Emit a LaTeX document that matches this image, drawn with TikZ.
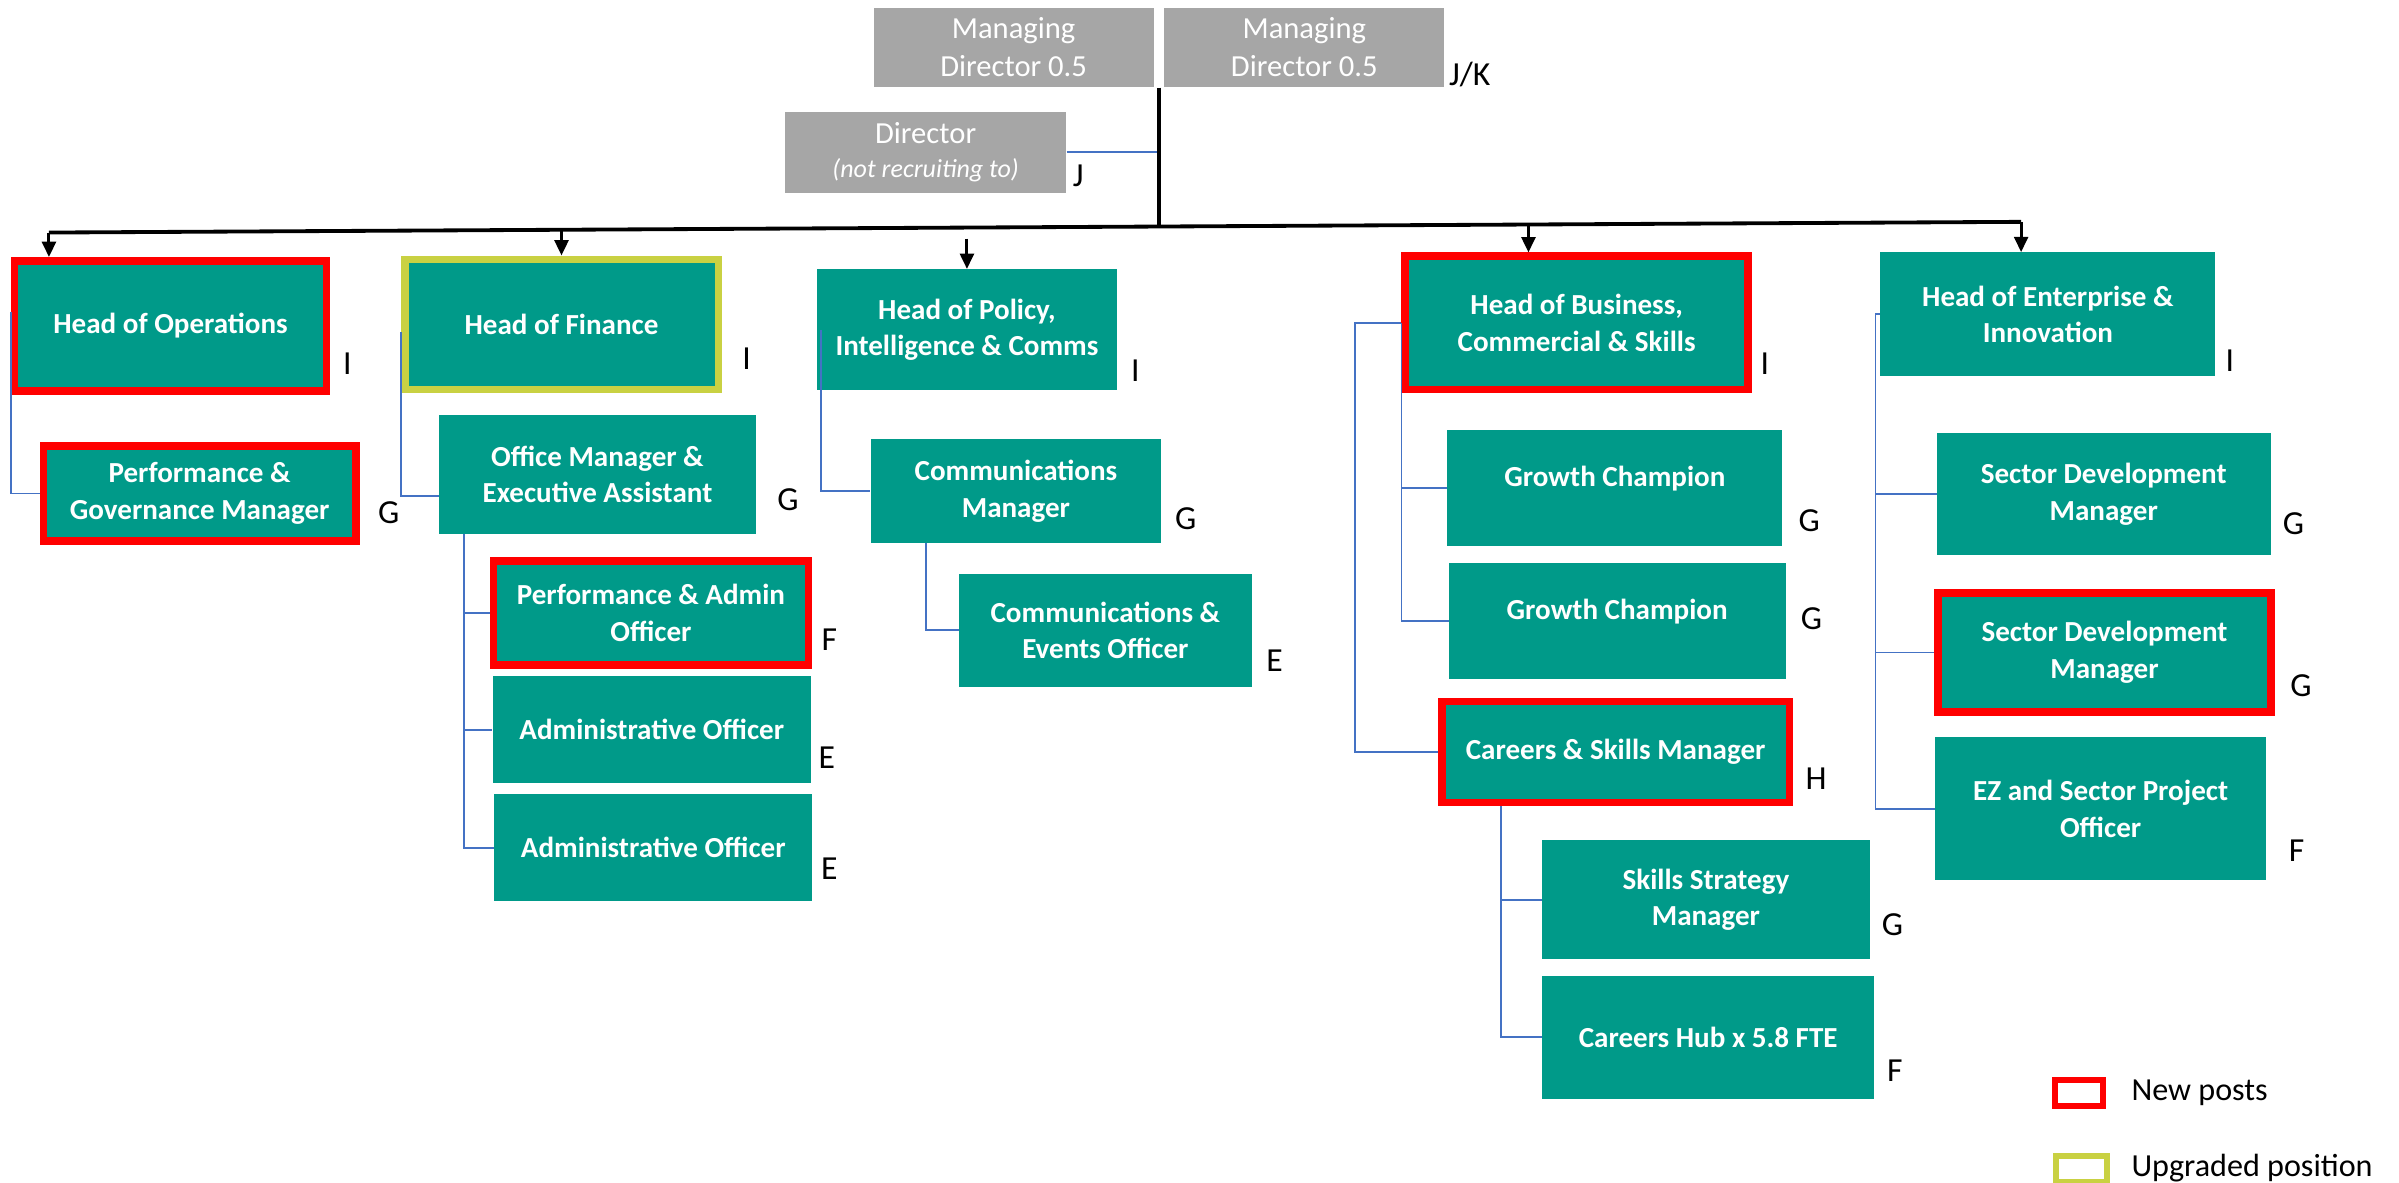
\documentclass[tikz,border=0pt]{standalone}
\usepackage{fontspec}
\setmainfont{Carlito}
\usetikzlibrary{arrows.meta,calc}
\definecolor{teal0}{HTML}{009A89}
\definecolor{grey0}{HTML}{A6A6A6}
\definecolor{newred}{HTML}{FF0000}
\definecolor{upg}{HTML}{C9D142}
\definecolor{connblue}{HTML}{4472C4}
\newcommand\ocbox{\fontsize{19}{24}\selectfont\bfseries}
\newcommand\ocmd{\fontsize{20}{25}\selectfont}
\newcommand\ocgrade{\fontsize{22}{26}\selectfont}
\newcommand\oclegend{\fontsize{21}{25}\selectfont}
\newcommand\ocit{\fontsize{17}{20}\selectfont\itshape}
\begin{document}
\begin{tikzpicture}[x=1pt,y=-1pt,
  boxtext/.style={inner sep=0pt, align=center, text=white},
  tbox/.style={boxtext, fill=teal0, font=\ocbox},
  nbox/.style={tbox, draw=newred, line width=5pt},
  ubox/.style={tbox, draw=upg, line width=5pt},
  gbox/.style={boxtext, fill=grey0, font=\ocmd},
  grade/.style={font=\ocgrade, inner sep=0pt, text=black},
  legtext/.style={font=\oclegend, inner sep=0pt, text=black},
  conn/.style={draw=connblue, line width=1.2pt},
  spine/.style={line width=2.5pt, black},
  arr/.style={line width=2pt, black, -{Triangle[width=9pt,length=10pt]}}
]
\useasboundingbox (0,0) rectangle (1568,773);
\fill[white] (0,0) rectangle (1568,773);

% top level
\node[gbox, minimum width=183pt, minimum height=52pt] (md1) at (662.5,31) {Managing\\Director 0.5};
\node[gbox, minimum width=183pt, minimum height=52pt] (md2) at (852.5,31) {Managing\\Director 0.5};
\node[gbox, minimum width=184pt, minimum height=53pt] (dir) at (605,99.5) {Director\\[-3pt]{\ocit (not recruiting to)}};
\node[grade, anchor=base west] (gmd) at (947,56) {J/K};
\node[grade, anchor=base west] (gdir) at (701,122) {J};

% heads
\node[nbox, minimum width=204pt, minimum height=85pt] (ops) at (111.5,213) {Head of Operations};
\node[ubox, minimum width=205pt, minimum height=85pt] (fin) at (367,212) {Head of Finance};
\node[tbox, minimum width=196pt, minimum height=79pt] (pol) at (632,215.5) {Head of Policy,\\Intelligence \& Comms};
\node[nbox, minimum width=224pt, minimum height=87pt] (bus) at (1030.5,211) {Head of Business,\\Commercial \& Skills};
\node[tbox, minimum width=219pt, minimum height=81pt] (ent) at (1338.5,205.5) {Head of Enterprise \&\\Innovation};

% operations
\node[nbox, minimum width=204pt, minimum height=62pt] (pgm) at (130.5,322.5) {Performance \&\\Governance Manager};
% finance
\node[tbox, minimum width=207pt, minimum height=78pt] (omea) at (390.5,310) {Office Manager \&\\Executive Assistant};
\node[nbox, minimum width=206pt, minimum height=68pt] (pao) at (425.5,400.5) {Performance \& Admin\\Officer};
\node[tbox, minimum width=208pt, minimum height=70pt] (ao1) at (426,477) {Administrative Officer};
\node[tbox, minimum width=208pt, minimum height=70pt] (ao2) at (427,554) {Administrative Officer};
% policy
\node[tbox, minimum width=190pt, minimum height=68pt] (cm) at (664,321) {Communications\\Manager};
\node[tbox, minimum width=191pt, minimum height=74pt] (ceo) at (722.5,412) {Communications \&\\Events Officer};
% business
\node[tbox, text depth=16pt, minimum width=219pt, minimum height=76pt] (gc1) at (1055.5,319) {Growth Champion};
\node[tbox, text depth=16pt, minimum width=220pt, minimum height=76pt] (gc2) at (1057,406) {Growth Champion};
\node[nbox, minimum width=227pt, minimum height=66pt] (csm) at (1056,491.5) {Careers \& Skills Manager};
\node[tbox, minimum width=214pt, minimum height=78pt] (ssm) at (1115,588) {Skills Strategy\\Manager};
\node[tbox, minimum width=217pt, minimum height=80pt] (chub) at (1116.5,678) {Careers Hub x 5.8 FTE};
% enterprise
\node[tbox, minimum width=218pt, minimum height=80pt] (sdm1) at (1375,323) {Sector Development\\Manager};
\node[nbox, minimum width=218pt, minimum height=78pt] (sdm2) at (1375.5,426.5) {Sector Development\\Manager};
\node[tbox, minimum width=216pt, minimum height=93pt] (ezo) at (1373,528.5) {EZ and Sector Project\\Officer};

% grades
\node[grade] (g1) at (227,237.5) {I};
\node[grade] (g2) at (254,335) {G};
\node[grade] (g3) at (488,234.5) {I};
\node[grade] (g4) at (515,326.5) {G};
\node[grade] (g5) at (542,418) {F};
\node[grade] (g6) at (540.5,495) {E};
\node[grade] (g7) at (542,567.5) {E};
\node[grade] (g8) at (742,242.5) {I};
\node[grade] (g9) at (775,339) {G};
\node[grade] (g10) at (833,432) {E};
\node[grade] (g11) at (1153.5,237.5) {I};
\node[grade] (g12) at (1182.5,340.5) {G};
\node[grade] (g13) at (1184,404.5) {G};
\node[grade] (g14) at (1187,509) {H};
\node[grade] (g15) at (1237,604.5) {G};
\node[grade] (g16) at (1238.5,700) {F};
\node[grade] (g17) at (1457.5,235.5) {I};
\node[grade] (g18) at (1499,342.5) {G};
\node[grade] (g19) at (1504,448) {G};
\node[grade] (g20) at (1501,556) {F};

% spine and bar
\coordinate (sp1) at ($(md1.south east)!0.5!(md2.south west)$);
\coordinate (bar3) at (757,148);
\coordinate (barL) at (32,152);
\coordinate (barR) at (1321,145);
\coordinate (a2) at (367,150.2);
\coordinate (a3) at (632,156);
\coordinate (a4) at (999,146.7);
\draw[conn] (dir.east) -- (dir.east -| sp1);
\draw[spine] (sp1) -- (sp1 |- bar3);
\draw[spine] (barL) -- (barR);
\draw[arr] (barL) -- (barL |- ops.north);
\draw[arr] (a2) -- (fin.north);
\draw[arr] (a3) -- (pol.north);
\draw[arr] (a4) -- (a4 |- bus.north);
\draw[arr] (barR) -- (barR |- ent.north);

% connectors
\draw[conn] ([yshift=9pt]ops.west) |- (pgm.west);
\draw[conn] ([yshift=-5pt]fin.west) |- ([yshift=-14pt]omea.west);
\coordinate (ov) at ([xshift=-87.5pt]omea.south);
\draw[conn] (ov) |- (ao2.west);
\draw[conn] (ov |- pao.west) -- (pao.west);
\draw[conn] (ov |- ao1.west) -- (ao1.west);
\draw[conn] ([xshift=3pt]pol.west) |- (cm.west);
\draw[conn] ([xshift=-59pt]cm.south) |- (ceo.west);
\draw[conn] (bus.west) |- (gc2.west);
\draw[conn] (bus.west |- gc1.west) -- (gc1.west);
\draw[conn] (bus.west) -- ++(-30.5,0) |- (csm.west);
\coordinate (cv) at ([xshift=-75pt]csm.south);
\draw[conn] (cv) |- (chub.west);
\draw[conn] (cv |- ssm.west) -- (ssm.west);
\draw[conn] (ent.west) -- ++(-3,0) coordinate (ev) |- (ezo.west);
\draw[conn] (ev |- sdm1.west) -- (sdm1.west);
\draw[conn] (ev |- sdm2.west) -- (sdm2.west);

% legend
\node[draw=newred, line width=4pt, minimum width=31.5pt, minimum height=17pt, inner sep=0pt] (legnew) at (1359,714.5) {};
\node[legtext, anchor=base west] (legnewt) at (1393,719) {New posts};
\node[draw=upg, line width=4pt, minimum width=33pt, minimum height=17pt, inner sep=0pt] (legupg) at (1360.5,764) {};
\node[legtext, anchor=base west] (legupgt) at (1393,769) {Upgraded position};
\end{tikzpicture}
\end{document}
